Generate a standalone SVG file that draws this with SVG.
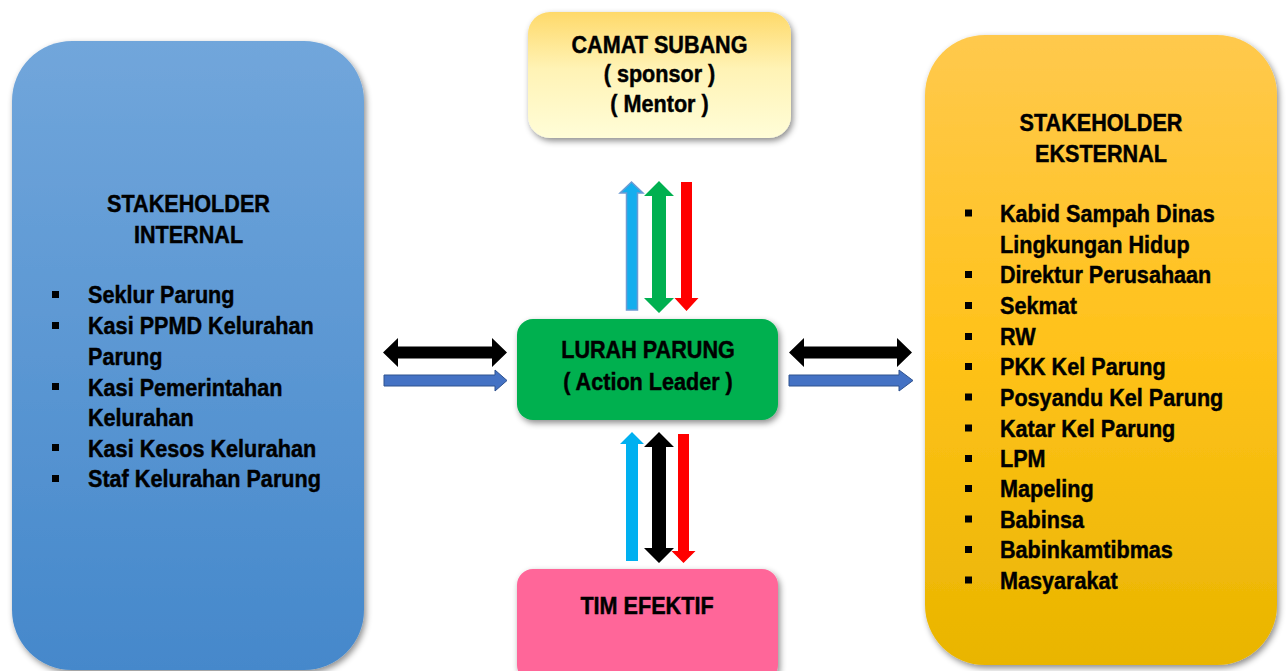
<svg xmlns="http://www.w3.org/2000/svg" width="1288" height="671" viewBox="0 0 1288 671">
<defs>
<linearGradient id="gBlue" x1="0" y1="0" x2="0" y2="1">
<stop offset="0" stop-color="#71A6DB"/><stop offset="1" stop-color="#4588CB"/>
</linearGradient>
<linearGradient id="gGold" x1="0" y1="0" x2="0" y2="1">
<stop offset="0" stop-color="#FFC94D"/><stop offset="0.5" stop-color="#FFC21A"/><stop offset="1" stop-color="#E9B500"/>
</linearGradient>
<linearGradient id="gCream" x1="0" y1="0" x2="0" y2="1">
<stop offset="0" stop-color="#FED96A"/><stop offset="0.45" stop-color="#FFF3B5"/><stop offset="1" stop-color="#FFFDD8"/>
</linearGradient>
<filter id="sh" x="-10%" y="-10%" width="120%" height="125%">
<feDropShadow dx="2" dy="3" stdDeviation="3" flood-color="#000" flood-opacity="0.45"/>
</filter>
<style>
text{font-family:"Liberation Sans",Arial,Helvetica,sans-serif;font-weight:bold;font-size:23.5px;fill:#000;stroke:#000;stroke-width:0.45px}
.c{text-anchor:middle}
.bul{fill:#000}
</style>
</defs>
<rect width="1288" height="671" fill="#fff"/>

<g id="internal">
<rect x="12" y="41" width="352" height="629" rx="60" fill="url(#gBlue)" filter="url(#sh)"/>
<text class="c" transform="translate(188.5,212) scale(0.92,1)">STAKEHOLDER</text>
<text class="c" transform="translate(188.5,243) scale(0.92,1)">INTERNAL</text>
<rect class="bul" x="52" y="291" width="7" height="7"/>
<rect class="bul" x="52" y="322" width="7" height="7"/>
<rect class="bul" x="52" y="383" width="7" height="7"/>
<rect class="bul" x="52" y="444" width="7" height="7"/>
<rect class="bul" x="52" y="475" width="7" height="7"/>
<text transform="translate(88,303) scale(0.92,1)">Seklur Parung</text>
<text transform="translate(88,334) scale(0.92,1)">Kasi PPMD Kelurahan</text>
<text transform="translate(88,364.5) scale(0.92,1)">Parung</text>
<text transform="translate(88,395.5) scale(0.92,1)">Kasi Pemerintahan</text>
<text transform="translate(88,426) scale(0.92,1)">Kelurahan</text>
<text transform="translate(88,456.5) scale(0.92,1)">Kasi Kesos Kelurahan</text>
<text transform="translate(88,487) scale(0.92,1)">Staf Kelurahan Parung</text>
</g>

<g id="eksternal">
<rect x="925" y="35" width="352" height="630" rx="60" fill="url(#gGold)" filter="url(#sh)"/>
<text class="c" transform="translate(1101,131) scale(0.92,1)">STAKEHOLDER</text>
<text class="c" transform="translate(1101,162) scale(0.92,1)">EKSTERNAL</text>
<rect class="bul" x="965" y="209.5" width="7" height="7"/>
<rect class="bul" x="965" y="271" width="7" height="7"/>
<rect class="bul" x="965" y="302" width="7" height="7"/>
<rect class="bul" x="965" y="333" width="7" height="7"/>
<rect class="bul" x="965" y="363" width="7" height="7"/>
<rect class="bul" x="965" y="393.5" width="7" height="7"/>
<rect class="bul" x="965" y="424.5" width="7" height="7"/>
<rect class="bul" x="965" y="455" width="7" height="7"/>
<rect class="bul" x="965" y="485" width="7" height="7"/>
<rect class="bul" x="965" y="515.5" width="7" height="7"/>
<rect class="bul" x="965" y="546" width="7" height="7"/>
<rect class="bul" x="965" y="576.5" width="7" height="7"/>
<text transform="translate(1000,221.5) scale(0.92,1)">Kabid Sampah Dinas</text>
<text transform="translate(1000,252.5) scale(0.92,1)">Lingkungan Hidup</text>
<text transform="translate(1000,283) scale(0.92,1)">Direktur Perusahaan</text>
<text transform="translate(1000,314) scale(0.92,1)">Sekmat</text>
<text transform="translate(1000,345) scale(0.92,1)">RW</text>
<text transform="translate(1000,375) scale(0.92,1)">PKK Kel Parung</text>
<text transform="translate(1000,405.5) scale(0.92,1)">Posyandu Kel Parung</text>
<text transform="translate(1000,436.5) scale(0.92,1)">Katar Kel Parung</text>
<text transform="translate(1000,466.5) scale(0.92,1)">LPM</text>
<text transform="translate(1000,497) scale(0.92,1)">Mapeling</text>
<text transform="translate(1000,527.5) scale(0.92,1)">Babinsa</text>
<text transform="translate(1000,558) scale(0.92,1)">Babinkamtibmas</text>
<text transform="translate(1000,588.5) scale(0.92,1)">Masyarakat</text>
</g>

<g id="camat">
<rect x="528" y="12" width="263" height="126" rx="22" fill="url(#gCream)" filter="url(#sh)"/>
<text class="c" transform="translate(659.5,53) scale(0.92,1)">CAMAT SUBANG</text>
<text class="c" transform="translate(659.5,82) scale(0.92,1)">( sponsor )</text>
<text class="c" transform="translate(659.5,112) scale(0.92,1)">( Mentor )</text>
</g>

<g id="lurah">
<rect x="517" y="319" width="261" height="101" rx="16" fill="#00B050" filter="url(#sh)"/>
<text class="c" transform="translate(648,358) scale(0.92,1)">LURAH PARUNG</text>
<text class="c" transform="translate(648,389.5) scale(0.92,1)">( Action Leader )</text>
</g>

<g id="tim">
<rect x="517" y="569" width="261" height="112" rx="16" fill="#FF6699" filter="url(#sh)"/>
<text class="c" transform="translate(647,613.5) scale(0.92,1)">TIM EFEKTIF</text>
</g>

<g id="connectors">
<polygon points="631.5,182 643,193 637.5,193 637.5,310 626.5,310 626.5,193 620,193" fill="#14AEEE" stroke="#6C9BD3" stroke-width="1.5"/>
<polygon points="659,181 674,196 666,196 666,298 674,298 659,313 644,298 652,298 652,196 644,196" fill="#00B050"/>
<polygon points="681,182 692,182 692,298 698.5,298 686.5,311 674.5,298 681,298" fill="#FF0000"/>
<polygon points="632,432 644,444 638,444 638,561 626,561 626,444 620,444" fill="#00B0F0"/>
<polygon points="659,432 674,447 666,447 666,548 674,548 659,563 644,548 652,548 652,447 644,447" fill="#000"/>
<polygon points="678,434 689,434 689,551 695.5,551 683.5,563 671.5,551 678,551" fill="#FF0000"/>
<polygon points="383,352.5 398,338 398,346.5 492,346.5 492,338 507,352.5 492,367 492,358.5 398,358.5 398,367" fill="#000"/>
<polygon points="384,375 495,375 495,370 507,380.5 495,391 495,386 384,386" fill="#4472C4" stroke="#2F528F" stroke-width="1"/>
<polygon points="789,352.5 804,338 804,346.5 897,346.5 897,338 912,352.5 897,367 897,358.5 804,358.5 804,367" fill="#000"/>
<polygon points="789,375 899,375 899,370 913,380.5 899,391 899,386 789,386" fill="#4472C4" stroke="#2F528F" stroke-width="1"/>
</g>
</svg>
